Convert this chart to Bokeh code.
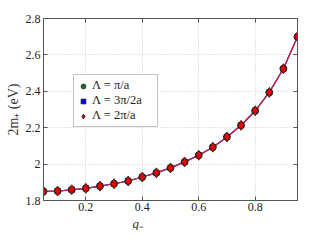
from bokeh.plotting import figure
from bokeh.models import (FixedTicker, LinearAxis, Legend, LegendItem, Title, Range1d)
from bokeh.embed import file_html
from bokeh.resources import INLINE

g_minus = [0.05, 0.10, 0.15, 0.20, 0.25, 0.30, 0.35, 0.40, 0.45, 0.50,
           0.55, 0.60, 0.65, 0.70, 0.75, 0.80, 0.85, 0.90, 0.95]
m_pi = [1.850, 1.852, 1.859, 1.867, 1.879, 1.892, 1.907, 1.929, 1.952, 1.979,
        2.012, 2.049, 2.093, 2.149, 2.213, 2.293, 2.394, 2.524, 2.700]
m_3pi2 = list(m_pi)
m_2pi = list(m_pi)

x_ticks = [0.2, 0.4, 0.6, 0.8]
y_ticks = [1.8, 2.0, 2.2, 2.4, 2.6, 2.8]
y_tick_labels = ["1.8", "2", "2.2", "2.4", "2.6", "2.8"]
legend_labels = ["Λ = π/a", "Λ = 3π/2a", "Λ = 2π/a"]

FONT = "Liberation Serif"

p = figure(width=312, height=230, output_backend="svg", toolbar_location=None,
           x_range=Range1d(0.05, 0.95), y_range=Range1d(1.8, 2.8),
           min_border_left=43, min_border_right=15, min_border_top=18,
           min_border_bottom=0)

p.outline_line_color = "#555555"
p.outline_line_width = 1

p.line(g_minus, m_pi, line_color="#1a7a1a", line_width=1.2)
p.line(g_minus, m_3pi2, line_color="#2020dd", line_width=1.2)
p.line(g_minus, m_2pi, line_color="#d8264a", line_width=1.2)

r1 = p.scatter(g_minus, m_pi, marker="circle", size=7, fill_color="#0a7a0a",
               line_color="#222222", line_width=0.8)
r2 = p.scatter(g_minus, m_3pi2, marker="square", size=5, fill_color="#0000ff",
               line_color="#222222", line_width=0.8)
r3 = p.scatter(g_minus, m_2pi, marker="diamond", size=10, fill_color="#ee0000",
               line_color="#222222", line_width=0.9)

for ax in (p.xaxis[0], p.yaxis[0]):
    ax.major_tick_in = 4
    ax.major_tick_out = 0
    ax.minor_tick_in = 0
    ax.minor_tick_out = 0
    ax.axis_line_color = "#555555"
    ax.major_tick_line_color = "#555555"
    ax.major_label_text_font = FONT
    ax.major_label_text_font_size = "12px"
    ax.major_label_text_color = "#222222"
    ax.axis_label_text_font = FONT
    ax.axis_label_text_font_style = "normal"
    ax.axis_label_text_color = "#333333"

p.xaxis[0].ticker = FixedTicker(ticks=x_ticks)
p.yaxis[0].ticker = FixedTicker(ticks=y_ticks)
p.yaxis[0].major_label_overrides = {t: l for t, l in zip(y_ticks, y_tick_labels)}
p.xaxis[0].major_label_standoff = 2
p.yaxis[0].major_label_standoff = 3
p.yaxis[0].axis_label = "2m₊ (eV)"
p.yaxis[0].axis_label_text_font_size = "14px"
p.yaxis[0].axis_label_standoff = 2

for loc in ("right", "above"):
    tk = x_ticks if loc == "above" else y_ticks
    ax = LinearAxis(ticker=FixedTicker(ticks=tk),
                    major_label_overrides={t: "" for t in tk},
                    major_tick_in=4, major_tick_out=0,
                    minor_tick_in=0, minor_tick_out=0, axis_line_color="#555555",
                    major_tick_line_color="#555555", major_label_standoff=0)
    p.add_layout(ax, loc)

p.xgrid.ticker = FixedTicker(ticks=x_ticks)
p.ygrid.ticker = FixedTicker(ticks=y_ticks)
p.grid.grid_line_color = "#cccccc"
p.grid.grid_line_dash = "1 2"
p.grid.grid_line_width = 1

xlab = Title(text="g₋", align="left", offset=89, standoff=0,
             text_font=FONT, text_font_size="13px", text_font_style="italic",
             text_color="#333333")
p.add_layout(xlab, "below")

legend = Legend(items=[LegendItem(label=legend_labels[0], renderers=[r1]),
                       LegendItem(label=legend_labels[1], renderers=[r2]),
                       LegendItem(label=legend_labels[2], renderers=[r3])],
                location=(30, 73))
legend.label_text_font = FONT
legend.label_text_font_size = "12.5px"
legend.label_text_color = "#222222"
legend.glyph_width = 12
legend.glyph_height = 12
legend.label_height = 12
legend.label_width = 62
legend.spacing = 0
legend.padding = 3
legend.margin = 0
legend.label_standoff = 3
legend.border_line_color = "#888888"
legend.border_line_width = 1
legend.background_fill_alpha = 1
p.add_layout(legend, "center")

open("out.html", "w").write(file_html(p, INLINE))
